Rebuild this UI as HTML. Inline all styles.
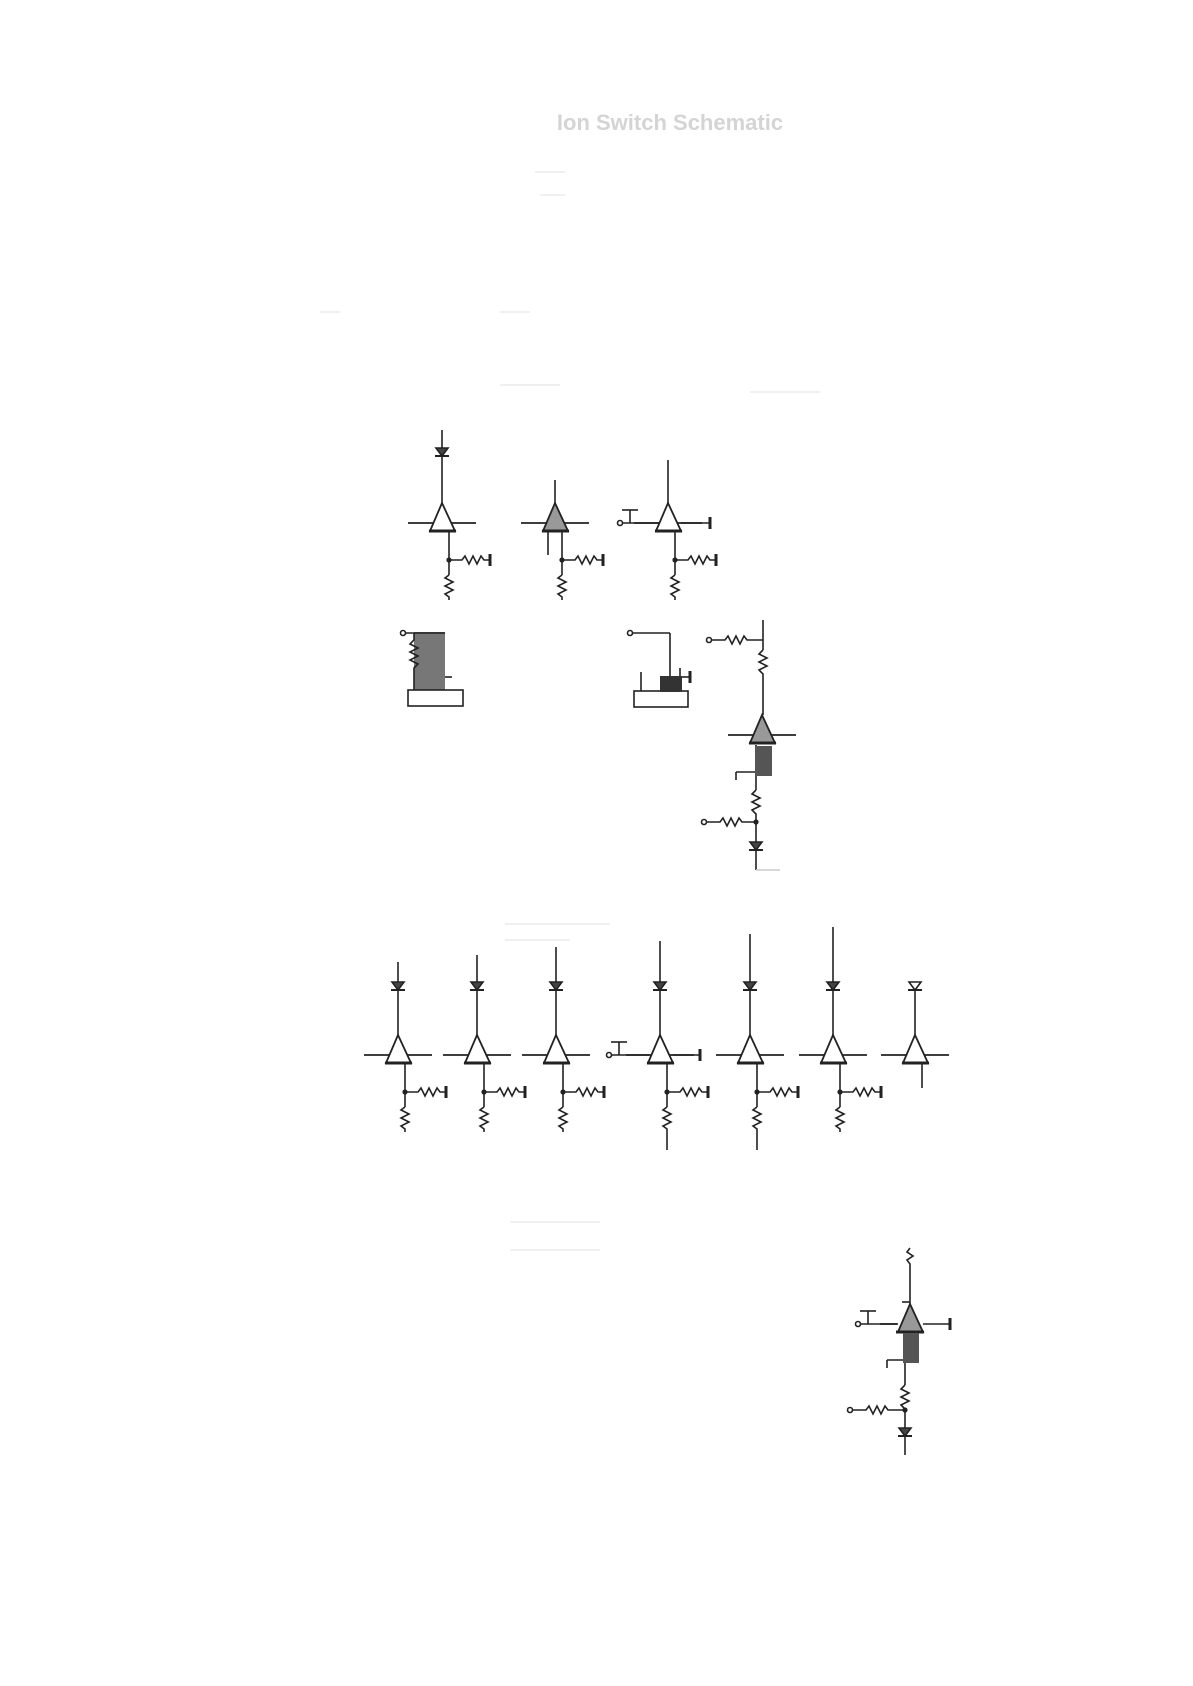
<!DOCTYPE html>
<html><head><meta charset="utf-8"><style>
html,body{margin:0;padding:0;background:#fff}
svg{display:block}
</style></head><body>
<svg width="1193" height="1686" viewBox="0 0 1193 1686" xmlns="http://www.w3.org/2000/svg">
<defs>
<g id="net" stroke="#222" stroke-width="1.6" fill="none">
 <line x1="7" y1="8" x2="7" y2="52"/>
 <circle cx="7" cy="37" r="1.8" fill="#222"/>
 <polyline points="7,37 20,37 23,33 27,41 31,33 35,41 39,33 42,37 48,37"/>
 <line x1="48" y1="31" x2="48" y2="43" stroke-width="3"/>
 <polyline points="7,52 3,55 11,59 3,63 11,67 3,71 7,74 7,77"/>
</g>
<g id="tri" stroke="#222" stroke-width="1.8">
 <line x1="-34" y1="0" x2="34" y2="0"/>
 <polygon points="0,-20 -12,8 13,8"/>
 <line x1="-13" y1="8" x2="14" y2="8" stroke-width="3"/>
</g>
<g id="diode" stroke="#222" stroke-width="1.6" fill="#444">
 <polygon points="-6,-4 6,-4 0,4"/>
 <line x1="-7" y1="4" x2="7" y2="4" stroke-width="2"/>
</g>
<g id="gnd" stroke="#222" stroke-width="1.6">
 <line x1="-3" y1="-6" x2="-3" y2="6" stroke-width="3"/>
</g>
<g id="inp" stroke="#222" stroke-width="1.6" fill="none">
 <circle cx="0" cy="0" r="2.5"/>
 <line x1="2.5" y1="0" x2="40" y2="0"/>
 <line x1="10" y1="0" x2="10" y2="-13"/>
 <line x1="2" y1="-13" x2="18" y2="-13"/>
</g>
</defs>

<text x="670" y="130" font-family="Liberation Sans, sans-serif" font-weight="bold" font-size="22" fill="#d4d4d4" text-anchor="middle">Ion Switch Schematic</text>
<g stroke="#ececec" stroke-width="1.5">
 <line x1="535" y1="172" x2="565" y2="172"/><line x1="540" y1="195" x2="565" y2="195"/>
 <line x1="320" y1="312" x2="340" y2="312"/><line x1="500" y1="312" x2="530" y2="312"/>
 <line x1="500" y1="385" x2="560" y2="385"/><line x1="750" y1="392" x2="820" y2="392"/>
 <line x1="505" y1="924" x2="610" y2="924"/><line x1="505" y1="940" x2="570" y2="940"/>
 <line x1="510" y1="1222" x2="600" y2="1222"/><line x1="510" y1="1250" x2="600" y2="1250"/>
</g>

<g stroke="#222" stroke-width="1.6" fill="none">
<!-- top row -->
<line x1="442" y1="430" x2="442" y2="503"/>
<line x1="555" y1="480" x2="555" y2="503"/>
<line x1="668" y1="460" x2="668" y2="503"/>
<line x1="548" y1="531" x2="548" y2="555"/>
<line x1="681" y1="523" x2="710" y2="523"/>
</g>
<use href="#diode" x="442" y="452"/>
<use href="#tri" x="442" y="523" fill="#fff"/>
<use href="#net" x="442" y="523"/>
<use href="#tri" x="555" y="523" fill="#999"/>
<use href="#net" x="555" y="523"/>
<use href="#tri" x="668" y="523" fill="#fff"/>
<use href="#net" x="668" y="523"/>
<use href="#inp" x="620" y="523"/>
<use href="#gnd" x="713" y="523"/>

<!-- middle blocks -->
<rect x="414" y="632" width="31" height="58" fill="#777"/>
<g stroke="#222" stroke-width="1.6" fill="none">
 <circle cx="403" cy="633" r="2.5"/><line x1="405" y1="633" x2="445" y2="633"/>
 <polyline points="414,633 414,640 410,644 418,648 410,652 418,656 410,660 418,664 414,668 414,690"/>
 <line x1="445" y1="677" x2="452" y2="677"/>
 <rect x="408" y="690" width="55" height="16" fill="#fff"/>
 <circle cx="630" cy="633" r="2.5"/><line x1="632" y1="633" x2="670" y2="633"/>
 <line x1="670" y1="633" x2="670" y2="676"/>
 <line x1="641" y1="672" x2="641" y2="691"/>
 <line x1="682" y1="677" x2="690" y2="677"/><line x1="680" y1="668" x2="680" y2="676"/>
 <rect x="634" y="691" width="54" height="16" fill="#fff"/>
</g>
<rect x="660" y="676" width="22" height="16" fill="#333"/>
<use href="#gnd" x="693" y="677"/>

<!-- right chain -->
<g stroke="#222" stroke-width="1.6" fill="none">
 <line x1="763" y1="620" x2="763" y2="650"/>
 <circle cx="709" cy="640" r="2.5"/>
 <polyline points="711,640 725,640 728,636 732,644 736,636 740,644 744,636 747,640 763,640"/>
 <polyline points="763,650 759,654 767,658 759,662 767,666 759,670 763,674 763,715"/>
 <line x1="756" y1="745" x2="756" y2="790"/>
 <line x1="736" y1="772" x2="756" y2="772"/><line x1="736" y1="772" x2="736" y2="780"/>
 <polyline points="756,790 752,794 760,798 752,802 760,806 752,810 756,814 756,870"/>
 <circle cx="756" cy="822" r="1.8" fill="#222"/>
 <circle cx="704" cy="822" r="2.5"/>
 <polyline points="706,822 720,822 723,818 727,826 731,818 735,826 739,818 742,822 756,822"/>
 <line x1="756" y1="870" x2="780" y2="870" stroke="#ccc"/>
</g>
<use href="#tri" x="762" y="735" fill="#999"/>
<rect x="755" y="746" width="17" height="30" fill="#555"/>
<use href="#diode" x="756" y="846"/>

<!-- bottom row -->
<g stroke="#222" stroke-width="1.6">
 <line x1="398" y1="962" x2="398" y2="1035"/>
 <line x1="477" y1="955" x2="477" y2="1035"/>
 <line x1="556" y1="947" x2="556" y2="1035"/>
 <line x1="660" y1="941" x2="660" y2="1035"/>
 <line x1="750" y1="934" x2="750" y2="1035"/>
 <line x1="833" y1="927" x2="833" y2="1035"/>
 <line x1="915" y1="990" x2="915" y2="1035"/>
 <line x1="922" y1="1063" x2="922" y2="1088"/>
 <line x1="667" y1="1132" x2="667" y2="1150"/>
 <line x1="757" y1="1132" x2="757" y2="1150"/>
 <line x1="673" y1="1055" x2="700" y2="1055"/>
</g>
<use href="#diode" x="398" y="986"/><use href="#diode" x="477" y="986"/>
<use href="#diode" x="556" y="986"/><use href="#diode" x="660" y="986"/>
<use href="#diode" x="750" y="986"/><use href="#diode" x="833" y="986"/>
<g stroke="#222" stroke-width="1.6" fill="#fff"><polygon points="909,982 921,982 915,990"/><line x1="908" y1="990" x2="922" y2="990" stroke-width="2"/></g>
<use href="#tri" x="398" y="1055" fill="#fff"/><use href="#net" x="398" y="1055"/>
<use href="#tri" x="477" y="1055" fill="#fff"/><use href="#net" x="477" y="1055"/>
<use href="#tri" x="556" y="1055" fill="#fff"/><use href="#net" x="556" y="1055"/>
<use href="#tri" x="660" y="1055" fill="#fff"/><use href="#net" x="660" y="1055"/>
<use href="#tri" x="750" y="1055" fill="#fff"/><use href="#net" x="750" y="1055"/>
<use href="#tri" x="833" y="1055" fill="#fff"/><use href="#net" x="833" y="1055"/>
<use href="#tri" x="915" y="1055" fill="#fff"/>
<use href="#inp" x="609" y="1055"/>
<use href="#gnd" x="703" y="1055"/>

<!-- bottom right -->
<g stroke="#222" stroke-width="1.6" fill="none">
 <polyline points="910,1248 907,1252 913,1256 907,1260 910,1264 910,1304"/>
 <line x1="902" y1="1302" x2="910" y2="1302"/>
 <line x1="923" y1="1324" x2="950" y2="1324"/>
 <line x1="905" y1="1362" x2="905" y2="1385"/>
 <line x1="887" y1="1360" x2="905" y2="1360"/><line x1="887" y1="1360" x2="887" y2="1368"/>
 <polyline points="905,1385 901,1389 909,1393 901,1397 909,1401 901,1405 905,1409 905,1455"/>
 <circle cx="905" cy="1410" r="1.8" fill="#222"/>
 <circle cx="850" cy="1410" r="2.5"/>
 <polyline points="852,1410 866,1410 869,1406 873,1414 877,1406 881,1414 885,1406 888,1410 905,1410"/>
</g>
<use href="#inp" x="858" y="1324"/>
<g stroke="#222" stroke-width="1.8"><line x1="880" y1="1324" x2="897" y2="1324"/><polygon points="910,1304 898,1332 923,1332" fill="#999"/><line x1="896" y1="1332" x2="924" y2="1332" stroke-width="3"/></g>
<rect x="903" y="1333" width="16" height="30" fill="#555"/>
<use href="#gnd" x="953" y="1324"/>
<use href="#diode" x="905" y="1432"/>
</svg>
</body></html>
